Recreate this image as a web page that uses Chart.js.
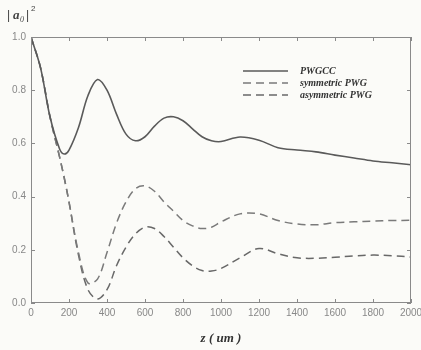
<!DOCTYPE html>
<html>
<head>
<meta charset="utf-8">
<script src="https://cdn.jsdelivr.net/npm/chart.js@4"></script>
<style>
  html, body { margin: 0; padding: 0; background: #fbfbf8; }
  #wrap { width: 421px; height: 350px; }
</style>
</head>
<body>
<div id="wrap"><canvas id="chart" width="421" height="350"></canvas></div>
<script>
// propagation distance z (um)
const zValues = [0, 50, 100, 150, 175, 200, 250, 300, 350, 400, 450, 500, 550, 600, 650, 700,
                 750, 800, 850, 900, 950, 1000, 1100, 1200, 1300, 1400, 1500, 1600, 1700, 1800, 1900, 2000];
const pwgcc = [1.0, 0.885, 0.70, 0.58, 0.56, 0.575, 0.66, 0.78, 0.84, 0.80, 0.71, 0.635, 0.61, 0.625, 0.665, 0.695,
               0.70, 0.685, 0.655, 0.625, 0.61, 0.607, 0.624, 0.612, 0.584, 0.575, 0.568, 0.556, 0.545, 0.534, 0.527, 0.52];
const symmetricPwg = [1.0, 0.885, 0.70, 0.55, 0.47, 0.38, 0.19, 0.075, 0.09, 0.19, 0.30, 0.38, 0.43, 0.44, 0.42, 0.38,
                      0.345, 0.31, 0.29, 0.28, 0.285, 0.305, 0.335, 0.335, 0.31, 0.297, 0.294, 0.302, 0.305, 0.308, 0.31, 0.311];
const asymmetricPwg = [1.0, 0.885, 0.70, 0.55, 0.47, 0.38, 0.18, 0.05, 0.015, 0.05, 0.14, 0.21, 0.26, 0.285, 0.28, 0.25,
                       0.21, 0.17, 0.14, 0.122, 0.12, 0.13, 0.17, 0.205, 0.185, 0.17, 0.168, 0.172, 0.177, 0.18, 0.178, 0.173];
const xTicks = [0, 200, 400, 600, 800, 1000, 1200, 1400, 1600, 1800, 2000];
const yTicks = [0.0, 0.2, 0.4, 0.6, 0.8, 1.0];
const seriesNames = ['PWGCC', 'symmetric PWG', 'asymmetric PWG'];

function toPoints(ys) {
    return zValues.map((z, i) => ({ x: z, y: ys[i] }));
}

// frame, inward ticks, legend and y title
const decorations = {
    id: 'decorations',
    afterDraw(chart) {
        const ctx = chart.ctx;
        const a = chart.chartArea;
        const xs = chart.scales.x, ys = chart.scales.y;
        ctx.save();
        ctx.strokeStyle = '#8a8a8a';
        ctx.lineWidth = 1;
        ctx.strokeRect(a.left + 0.5, a.top + 0.5, a.right - a.left - 1, a.bottom - a.top - 1);
        ctx.beginPath();
        xTicks.forEach(t => {
            const px = Math.round(xs.getPixelForValue(t)) + 0.5;
            ctx.moveTo(px, a.bottom); ctx.lineTo(px, a.bottom - 4);
            ctx.moveTo(px, a.top); ctx.lineTo(px, a.top + 4);
        });
        yTicks.forEach(t => {
            const py = Math.round(ys.getPixelForValue(t)) + 0.5;
            ctx.moveTo(a.left, py); ctx.lineTo(a.left + 4, py);
            ctx.moveTo(a.right, py); ctx.lineTo(a.right - 4, py);
        });
        ctx.stroke();

        // legend inside the plot
        ctx.font = 'italic bold 10px "Liberation Serif", "DejaVu Serif", serif';
        ctx.textBaseline = 'middle';
        chart.data.datasets.forEach((ds, i) => {
            const y = 71 + i * 12;
            ctx.strokeStyle = ds.borderColor;
            ctx.lineWidth = 1.3;
            ctx.setLineDash(ds.borderDash || []);
            ctx.beginPath();
            ctx.moveTo(243, y); ctx.lineTo(288, y);
            ctx.stroke();
            ctx.setLineDash([]);
            ctx.fillStyle = '#333';
            ctx.fillText(ds.label, 300, y);
        });

        // y title |a0|^2
        ctx.fillStyle = '#444';
        ctx.font = '12px "Liberation Sans", sans-serif';
        ctx.fillText('|', 7, 16);
        ctx.font = 'italic bold 13px "Liberation Serif", serif';
        ctx.fillText('a', 13, 16);
        ctx.font = 'italic 8px "Liberation Serif", serif';
        ctx.fillText('0', 20, 20);
        ctx.font = '12px "Liberation Sans", sans-serif';
        ctx.fillText('|', 26, 16);
        ctx.font = '8px "Liberation Sans", sans-serif';
        ctx.fillText('2', 31, 9);
        ctx.restore();
    }
};

new Chart(document.getElementById('chart').getContext('2d'), {
    type: 'line',
    data: {
        datasets: [
            { label: seriesNames[0], data: toPoints(pwgcc), borderColor: '#5a5a5a', borderWidth: 1.6 },
            { label: seriesNames[1], data: toPoints(symmetricPwg), borderColor: '#7a7a7a', borderWidth: 1.5, borderDash: [8, 5] },
            { label: seriesNames[2], data: toPoints(asymmetricPwg), borderColor: '#686868', borderWidth: 1.5, borderDash: [8, 5] }
        ]
    },
    options: {
        responsive: false,
        animation: false,
        layout: { padding: { top: 37, right: 0, left: 0, bottom: 0 } },
        elements: {
            point: { radius: 0 },
            line: { tension: 0.35, fill: false }
        },
        plugins: { legend: { display: false }, tooltip: { enabled: false } },
        scales: {
            x: {
                type: 'linear', min: 0, max: 2000,
                afterBuildTicks: s => { s.ticks = xTicks.map(v => ({ value: v })); },
                afterFit: s => { s.height = 47; s.paddingLeft = 0; s.paddingRight = 10; },
                grid: { display: false, drawTicks: false },
                border: { display: false },
                ticks: { color: '#888', padding: 4, maxRotation: 0, callback: v => String(v),
                         font: { family: 'Liberation Sans', size: 10 } },
                title: { display: true, text: 'z ( um )', color: '#333', padding: { top: 4 },
                         font: { family: 'Liberation Serif', size: 13, style: 'italic', weight: 'bold' } }
            },
            y: {
                min: 0, max: 1,
                afterBuildTicks: s => { s.ticks = yTicks.map(v => ({ value: v })); },
                afterFit: s => { s.width = 31; },
                grid: { display: false, drawTicks: false },
                border: { display: false },
                ticks: { color: '#888', padding: 5, callback: v => v.toFixed(1), font: { family: 'Liberation Sans', size: 10 } }
            }
        }
    },
    plugins: [decorations]
});
</script>
</body>
</html>
